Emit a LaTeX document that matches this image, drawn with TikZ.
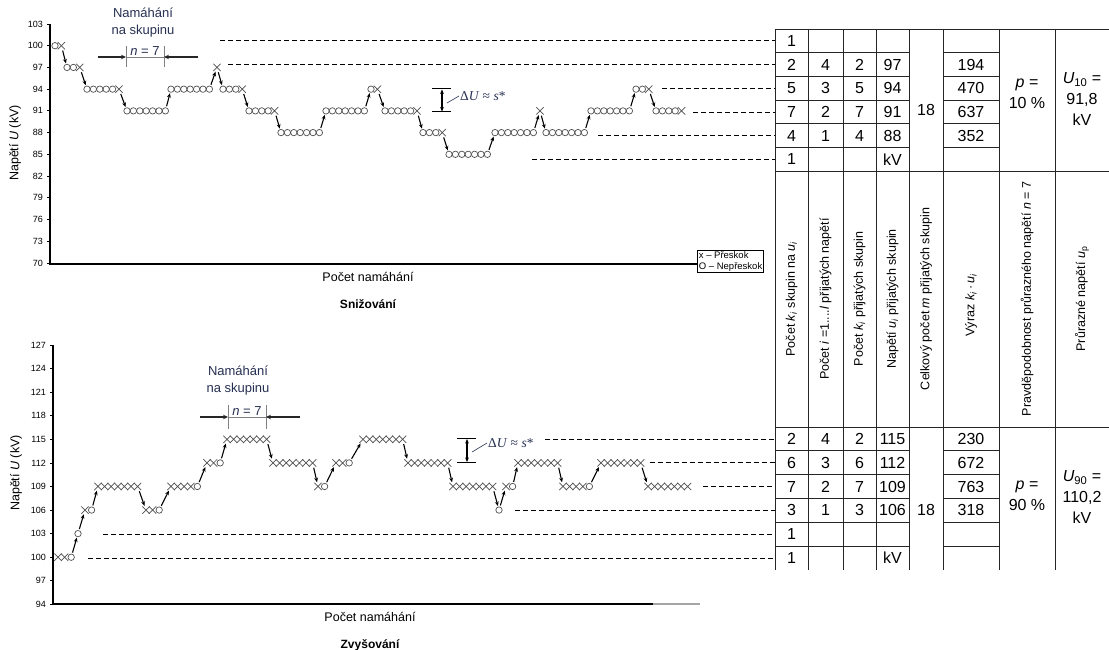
\documentclass[tikz,border=0pt]{standalone}
\usepackage{fontspec}
\setmainfont{Liberation Sans}
\newfontfamily\deltafont{Liberation Serif}
\usetikzlibrary{arrows.meta,positioning,shapes.misc}
\definecolor{markgray}{RGB}{80,80,80}
\definecolor{notecolor}{RGB}{38,48,82}
\tikzset{
  omark/.style={circle, draw=markgray, line width=0.7pt,
    minimum size=6.4pt, inner sep=0pt},
  xmark/.style={cross out, draw=markgray, line width=0.7pt,
    minimum size=6.6pt, inner sep=0pt},
  arr/.style={-{Stealth[length=4.5pt, width=3.8pt]}, line width=1.1pt,
    shorten <=1.2pt, shorten >=0.6pt},
  darr/.style={{Stealth[length=4.5pt, width=3.8pt]}-{Stealth[length=4.5pt, width=3.8pt]},
    line width=1.1pt},
  axisline/.style={line width=1.1pt},
  tickline/.style={line width=0.8pt},
  ticklbl/.style={anchor=east, inner sep=0pt, font=\fontsize{9}{10}\selectfont},
  axlbl/.style={font=\fontsize{12.5}{14}\selectfont},
  capbold/.style={font=\fontsize{12}{14}\selectfont\bfseries},
  note/.style={text=notecolor, align=center, font=\fontsize{13}{17}\selectfont},
  deltalbl/.style={text=notecolor, inner sep=1pt, font=\deltafont\fontsize{13.5}{15}\selectfont},
  brk/.style={gray, line width=0.8pt},
  brkarr/.style={-{Stealth[length=5pt, width=4.5pt]}, line width=1.3pt, black!85},
  dline/.style={dash pattern=on 4.5pt off 3.5pt, line width=0.8pt},
  tline/.style={line width=0.9pt, black!85},
  cell/.style={inner sep=0pt, font=\fontsize{16}{18}\selectfont},
  fcell/.style={cell, minimum width=33pt, minimum height=23.7pt},
  headcell/.style={rotate=90, inner sep=0pt, font=\fontsize{12.5}{14}\selectfont},
  bigcell/.style={align=center, inner sep=0pt, font=\fontsize{16}{21}\selectfont},
  legendbox/.style={draw, line width=0.8pt, align=left, inner sep=1.5pt,
    font=\fontsize{9.5}{10.5}\selectfont},
}
\def\prevmark{}
% group of the decreasing test: withstands, then one flashover
\newcommand{\downgroup}[4]{%
  \pgfmathtruncatemacro{\glen}{min(#4+1,7)}%
  \pgfmathsetmacro{\gy}{24+(103-#3)*7.24}%
  \ifnum#4>0
    \foreach \j in {1,...,#4}
      \node[omark] (#1-\j) at ({#2+(\j-1)*6.4},\gy) {};
  \fi
  \ifnum#4<7
    \node[xmark] (#1-\glen) at ({#2+#4*6.4},\gy) {};
  \fi
  \ifx\prevmark\empty\else\draw[arr] (\prevmark) -- (#1-1);\fi
  \xdef\prevmark{#1-\glen}}
% group of the increasing test: flashovers, then one withstand
\newcommand{\upgroup}[4]{%
  \pgfmathtruncatemacro{\glen}{min(#4+1,7)}%
  \pgfmathsetmacro{\gy}{345+(127-#3)*7.86}%
  \ifnum#4>0
    \foreach \j in {1,...,#4}
      \node[xmark] (#1-\j) at ({#2+(\j-1)*6.6},\gy) {};
  \fi
  \ifnum#4<7
    \node[omark] (#1-\glen) at ({#2+#4*6.6},\gy) {};
  \fi
  \ifx\prevmark\empty\else\draw[arr] (\prevmark) -- (#1-1);\fi
  \xdef\prevmark{#1-\glen}}

\begin{document}
\begin{tikzpicture}[x=1pt, y=-1pt]
  \fill[white] (0,0) rectangle (1109,650);
  \useasboundingbox (0,0) rectangle (1109,650);

  % Snizovani: axes
  \node[legendbox, anchor=north west] (legend) at (697,250)
    {x – Přeskok\\O – Nepřeskok};
  \draw[axisline] (50,24) -- (50,264) -- (legend.west |- 50,264);
  \foreach \v in {70,73,...,103}{
    \pgfmathsetmacro\ty{24+(103-\v)*7.24}
    \draw[tickline] (47,\ty) -- (50,\ty);
    \node[ticklbl] (lt\v) at (43,\ty) {\v};
  }
  \node[axlbl, rotate=90] (ylabtop) at (15,143) {Napětí \textit{U} (kV)};
  \node[axlbl] (xlabtop) at (368,277) {Počet namáhání};
  \node[capbold, below=11pt of xlabtop] (captop) {Snižování};

  % Snizovani: groups
  \gdef\prevmark{}
  \downgroup{d1}{55}{100}{1}
  \downgroup{d2}{67}{97}{2}
  \downgroup{d3}{87}{94}{5}
  \downgroup{d4}{127}{91}{7}
  \downgroup{d5}{171}{94}{7}
  \downgroup{d6}{217}{97}{0}
  \downgroup{d7}{223}{94}{3}
  \downgroup{d8}{249}{91}{4}
  \downgroup{d9}{281}{88}{7}
  \downgroup{d10}{326}{91}{7}
  \downgroup{d11}{371}{94}{1}
  \downgroup{d12}{385}{91}{5}
  \downgroup{d13}{423}{88}{3}
  \downgroup{d14}{449}{85}{7}
  \downgroup{d15}{495}{88}{7}
  \downgroup{d16}{540}{91}{0}
  \downgroup{d17}{546}{88}{7}
  \downgroup{d18}{591}{91}{7}
  \downgroup{d19}{636}{94}{2}
  \downgroup{d20}{656}{91}{4}

  % group width and step
  \node[note] (grptop) at (143,23) {Namáhání\\na skupinu};
  \draw[brk] (126,46) -- (126,67) (164,46) -- (164,67);
  \draw[brk] (126,57) -- (164,57);
  \node[note, anchor=south, inner sep=1pt] (n7top) at (145,57) {\textit{n} = 7};
  \draw[brkarr] (98,57) -- (126,57);
  \draw[brkarr] (198,57) -- (164,57);
  \draw[darr] (442,89.5) -- (442,111.5);
  \draw[line width=1pt] (432,89) -- (451,89) (432,112) -- (451,112);
  \draw[notecolor, line width=0.6pt] (447,103) -- (459,96);
  \node[deltalbl, anchor=west] (dutop) at (459,96) {Δ\textit{U} ≈ \textit{s}*};

  % Zvysovani: axes
  \draw[axisline] (53,345) -- (53,604) -- (653,604);
  \draw[axisline, gray!70] (653,604) -- (700,604);
  \foreach \v in {94,97,...,127}{
    \pgfmathsetmacro\ty{345+(127-\v)*7.86}
    \draw[tickline] (50,\ty) -- (53,\ty);
    \node[ticklbl] (lb\v) at (46,\ty) {\v};
  }
  \node[axlbl, rotate=90] (ylabbot) at (16,473) {Napětí \textit{U} (kV)};
  \node[axlbl] (xlabbot) at (370,617) {Počet namáhání};
  \node[capbold, below=11pt of xlabbot] (capbot) {Zvyšování};

  % Zvysovani: groups
  \gdef\prevmark{}
  \upgroup{u1}{58}{100}{2}
  \upgroup{u2}{78}{103}{0}
  \upgroup{u3}{85}{106}{1}
  \upgroup{u4}{98}{109}{7}
  \upgroup{u5}{146}{106}{2}
  \upgroup{u6}{171}{109}{4}
  \upgroup{u7}{207}{112}{2}
  \upgroup{u8}{227}{115}{7}
  \upgroup{u9}{273}{112}{7}
  \upgroup{u10}{318}{109}{1}
  \upgroup{u11}{336}{112}{2}
  \upgroup{u12}{363}{115}{7}
  \upgroup{u13}{408}{112}{7}
  \upgroup{u14}{453}{109}{7}
  \upgroup{u15}{499}{106}{0}
  \upgroup{u16}{506}{109}{1}
  \upgroup{u17}{518}{112}{7}
  \upgroup{u18}{563}{109}{4}
  \upgroup{u19}{601}{112}{7}
  \upgroup{u20}{648}{109}{7}

  \node[note] (grpbot) at (238,381) {Namáhání\\na skupinu};
  \draw[brk] (228,405) -- (228,429) (266,405) -- (266,429);
  \draw[brk] (228,417) -- (266,417);
  \node[note, anchor=south, inner sep=1pt] (n7bot) at (247,417) {\textit{n} = 7};
  \draw[brkarr] (200,417) -- (228,417);
  \draw[brkarr] (300,417) -- (266,417);
  \draw[darr] (467,439) -- (467,462);
  \draw[line width=1pt] (457,438.5) -- (476,438.5) (457,462.5) -- (476,462.5);
  \draw[notecolor, line width=0.6pt] (472,452) -- (487,443);
  \node[deltalbl, anchor=west] (dubot) at (487,443) {Δ\textit{U} ≈ \textit{s}*};

  % Table grid
  \draw[tline] (775,29) -- (1109,29) (775,171.2) -- (1109,171.2)
    (775,427) -- (1109,427);
  \foreach \y in {52.7,76.4,100.1,123.8,147.5,450.8,474.6,498.4,522.2,546}
    \draw[tline] (775,\y) -- (909,\y) (943,\y) -- (999,\y);
  \foreach \x in {775,808,843,876,909,943,999,1055}
    \draw[tline] (\x,29) -- (\x,570);

  % Table, upper part
  \foreach \r/\v in {1/1,2/2,3/5,4/7,5/4,6/1}
    \node[fcell] (t\r) at (791.5,{29+(\r-0.5)*23.7}) {\v};
  \foreach \r/\a/\b/\c/\w in {2/4/2/97/194,3/3/5/94/470,4/2/7/91/637,5/1/4/88/352}{
    \node[cell] (ta\r) at (825.5,{29+(\r-0.5)*23.7}) {\a};
    \node[cell] (tb\r) at (859.5,{29+(\r-0.5)*23.7}) {\b};
    \node[cell] (tc\r) at (892.5,{29+(\r-0.5)*23.7}) {\c};
    \node[cell] (tw\r) at (971,{29+(\r-0.5)*23.7}) {\w};
  }
  \node[cell] (tc6) at (892.5,{29+5.5*23.7}) {kV};
  \node[cell] (tm) at (926,110) {18};
  \node[bigcell] (tp) at (1027,94) {\textit{p} =\\10 \%};
  \node[bigcell] (tu) at (1082,99) {\textit{U}\textsubscript{10} =\\91,8\\kV};
  \foreach \r/\xs in {1/220,2/228,3/662,4/693,5/598,6/532}
    \draw[dline] (\xs,0 |- t\r.west) -- (t\r.west);

  % Table, headings
  \node[headcell] (h1) at (791.5,299)
    {Počet \textit{k}\textsubscript{\textit{i}} skupin na \textit{u}\textsubscript{\textit{i}}};
  \node[headcell] (h2) at (825.5,299)
    {Počet \textit{i} =1....\textit{l} přijatých napětí};
  \node[headcell] (h3) at (859.5,299)
    {Počet \textit{k}\textsubscript{\textit{i}} přijatých skupin};
  \node[headcell] (h4) at (892.5,299)
    {Napětí \textit{u}\textsubscript{\textit{i}} přijatých skupin};
  \node[headcell] (h5) at (926,299)
    {Celkový počet \textit{m} přijatých skupin};
  \node[headcell] (h6) at (971,305)
    {Výraz \textit{k}\textsubscript{\textit{i}}\,·\,\textit{u}\textsubscript{\textit{i}}};
  \node[headcell] (h7) at (1027,299)
    {Pravděpodobnost průrazného napětí \textit{n} = 7};
  \node[headcell] (h8) at (1082,299)
    {Průrazné napětí \textit{u}\textsubscript{p}};

  % Table, lower part
  \foreach \r/\v in {1/2,2/6,3/7,4/3,5/1,6/1}
    \node[fcell] (b\r) at (791.5,{427+(\r-0.5)*23.8}) {\v};
  \foreach \r/\a/\b/\c/\w in {1/4/2/115/230,2/3/6/112/672,3/2/7/109/763,4/1/3/106/318}{
    \node[cell] (ba\r) at (825.5,{427+(\r-0.5)*23.8}) {\a};
    \node[cell] (bb\r) at (859.5,{427+(\r-0.5)*23.8}) {\b};
    \node[cell] (bc\r) at (892.5,{427+(\r-0.5)*23.8}) {\c};
    \node[cell] (bw\r) at (971,{427+(\r-0.5)*23.8}) {\w};
  }
  \node[cell] (bc6) at (892.5,{427+5.5*23.8}) {kV};
  \node[cell] (bm) at (926,510) {18};
  \node[bigcell] (bp) at (1027,496) {\textit{p} =\\90 \%};
  \node[bigcell] (bu) at (1082,497) {\textit{U}\textsubscript{90} =\\110,2\\kV};
  \foreach \r/\xs in {1/545,2/650,3/703,4/515,5/103,6/88}
    \draw[dline] (\xs,0 |- b\r.west) -- (b\r.west);
\end{tikzpicture}
\end{document}
